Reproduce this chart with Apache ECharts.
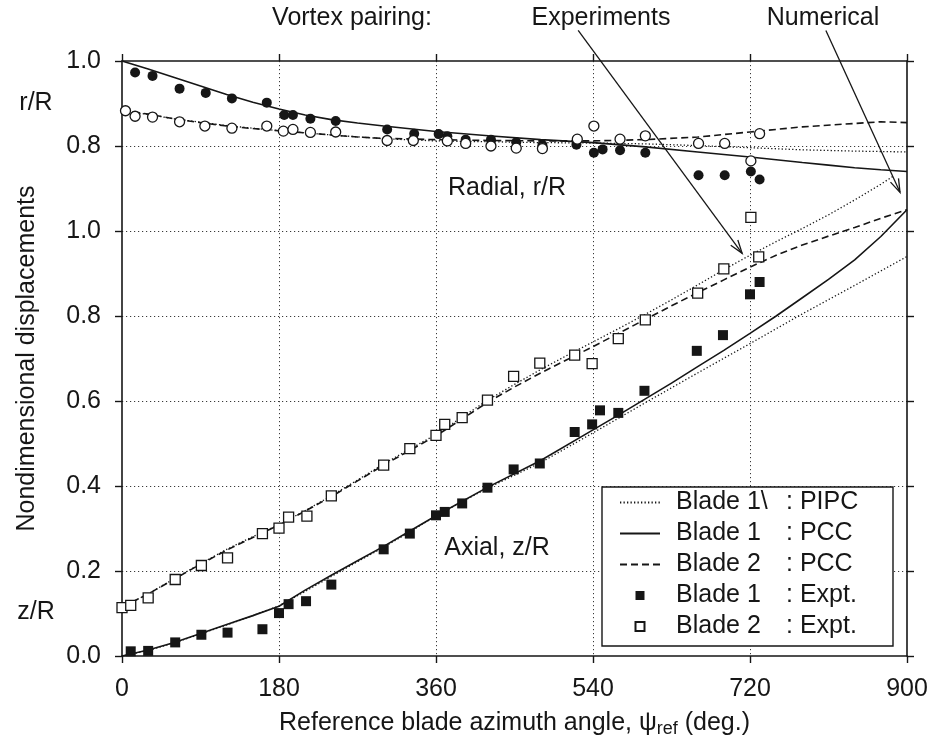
<!DOCTYPE html>
<html>
<head>
<meta charset="utf-8">
<script src="https://cdn.jsdelivr.net/npm/echarts@6/dist/echarts.min.js"></script>
<style>
  html, body { margin: 0; padding: 0; background: #ffffff; }
  #chart { width: 932px; height: 745px; }
</style>
</head>
<body>
<div id="chart"></div>
<script>
// Wake geometry of a two-bladed rotor: axial (z/R) and radial (r/R) tip-vortex displacements
// against reference blade azimuth psi_ref (deg.). Radial values sit on their own r/R scale.

// ---- axes ----
const psiTicks = [0, 180, 360, 540, 720, 900];
const zTickLabels = ['0.0', '0.2', '0.4', '0.6', '0.8', '1.0'];
const rTickLabels = ['0.8', '1.0'];

// ---- legend ----
const legendBlade = ['Blade 1\\', 'Blade 1', 'Blade 2', 'Blade 1', 'Blade 2'];
const legendKind = [': PIPC', ': PCC', ': PCC', ': Expt.', ': Expt.'];

// ---- axial displacement z/R: numerical ----
const axialB1PIPC = [[0,0],[30,0.013],[60,0.031],[90,0.052],[120,0.073],[150,0.095],[180,0.118],[210,0.152],[240,0.187],[270,0.222],[300,0.256],[330,0.292],[360,0.330],[420,0.396],[480,0.455],[540,0.525],[600,0.596],[660,0.666],[720,0.735],[780,0.805],[840,0.872],[900,0.940]];
const axialB2PIPC = [[0,0.115],[30,0.146],[60,0.182],[90,0.217],[120,0.251],[150,0.281],[180,0.309],[210,0.342],[240,0.377],[270,0.414],[300,0.452],[330,0.487],[360,0.521],[390,0.562],[420,0.603],[450,0.639],[480,0.674],[510,0.707],[540,0.739],[570,0.771],[600,0.804],[630,0.838],[660,0.873],[690,0.909],[720,0.943],[750,0.975],[780,1.006],[810,1.038],[840,1.073],[870,1.110],[885,1.130]];
const axialB1PCC = [[0,0],[30,0.014],[60,0.032],[90,0.053],[120,0.074],[150,0.095],[180,0.117],[210,0.155],[240,0.190],[270,0.224],[300,0.258],[330,0.294],[360,0.330],[420,0.398],[480,0.460],[540,0.532],[570,0.568],[600,0.605],[630,0.642],[660,0.681],[690,0.719],[720,0.759],[750,0.800],[780,0.843],[810,0.886],[840,0.932],[870,0.987],[900,1.050]];
const axialB2PCC = [[0,0.115],[30,0.146],[60,0.181],[90,0.216],[120,0.249],[150,0.279],[180,0.308],[210,0.341],[240,0.375],[270,0.412],[300,0.449],[330,0.484],[360,0.518],[390,0.558],[420,0.598],[450,0.633],[480,0.666],[510,0.697],[540,0.728],[570,0.760],[600,0.792],[630,0.824],[660,0.855],[690,0.885],[720,0.915],[750,0.943],[780,0.967],[810,0.988],[840,1.008],[870,1.030],[900,1.050]];

// ---- axial displacement z/R: experiment ----
const axialB1Expt = [[10,0.011],[30,0.012],[61,0.032],[91,0.050],[121,0.055],[161,0.063],[180,0.101],[191,0.122],[211,0.129],[240,0.168],[300,0.251],[330,0.288],[360,0.331],[370,0.339],[390,0.359],[419,0.396],[449,0.439],[479,0.453],[519,0.527],[539,0.545],[548,0.578],[569,0.572],[599,0.624],[659,0.718],[689,0.755],[720,0.851],[731,0.880]];
const axialB2Expt = [[0,0.114],[10,0.119],[30,0.137],[61,0.180],[91,0.213],[121,0.231],[161,0.288],[180,0.301],[191,0.327],[212,0.329],[240,0.377],[300,0.449],[330,0.488],[360,0.519],[370,0.545],[390,0.561],[419,0.602],[449,0.658],[479,0.689],[519,0.708],[539,0.688],[569,0.747],[600,0.791],[660,0.854],[690,0.911],[721,1.032],[730,0.939]];

// ---- radial displacement r/R: numerical ----
const radialPIPC = [[0,0.884],[60,0.864],[120,0.848],[180,0.836],[240,0.826],[300,0.817],[360,0.812],[420,0.810],[480,0.808],[540,0.807],[600,0.805],[660,0.801],[720,0.796],[780,0.791],[840,0.788],[900,0.786]];
const radialB1PCC = [[0,1.000],[30,0.981],[60,0.961],[90,0.941],[120,0.921],[150,0.903],[180,0.887],[210,0.873],[240,0.862],[270,0.854],[300,0.847],[360,0.834],[420,0.824],[480,0.815],[540,0.808],[600,0.798],[660,0.786],[720,0.774],[780,0.761],[810,0.755],[840,0.749],[870,0.744],[900,0.740]];
const radialB2PCC = [[0,0.884],[30,0.875],[60,0.864],[90,0.855],[120,0.847],[150,0.841],[180,0.836],[210,0.831],[240,0.826],[270,0.821],[300,0.818],[360,0.815],[420,0.813],[480,0.812],[540,0.812],[600,0.815],[660,0.821],[720,0.833],[780,0.845],[840,0.853],[870,0.857],[900,0.855]];

// ---- radial displacement r/R: experiment ----
const radialB1Expt = [[15,0.973],[35,0.965],[66,0.935],[96,0.925],[126,0.912],[166,0.902],[186,0.873],[196,0.873],[216,0.864],[245,0.859],[304,0.839],[335,0.829],[363,0.828],[373,0.823],[394,0.815],[423,0.815],[452,0.809],[482,0.802],[521,0.803],[541,0.784],[551,0.792],[571,0.790],[600,0.784],[661,0.731],[691,0.731],[721,0.740],[731,0.721]];
const radialB2Expt = [[4,0.883],[15,0.870],[35,0.868],[66,0.857],[95,0.847],[126,0.842],[166,0.847],[185,0.835],[196,0.839],[216,0.832],[245,0.833],[304,0.813],[334,0.813],[373,0.812],[394,0.806],[423,0.800],[452,0.795],[482,0.794],[522,0.816],[541,0.847],[571,0.816],[600,0.824],[661,0.806],[691,0.806],[721,0.765],[731,0.829]];

const FONT = '"Liberation Sans", Arial, Helvetica, sans-serif';
const INK = '#161616';
const legendNames = legendBlade.map((b, i) => b + '  ' + legendKind[i]);
const SQUARE = 'path://M0,0H10V10H0Z';

const axisLine = { show: true, onZero: false, lineStyle: { color: INK, width: 1.6 } };
const axisTick = { show: true, length: 7, lineStyle: { color: INK, width: 1.4 } };
const gridLine = { show: true, showMinLine: false, showMaxLine: false,
  lineStyle: { color: '#3a3a3a', width: 1, type: [1.2, 2.8] } };
const labelFont = { color: INK, fontFamily: FONT, fontSize: 25 };

const styles = {
  pipc: { color: INK, width: 1.3, type: [1.3, 2.2], cap: 'butt' },
  pcc1: { color: INK, width: 1.6, type: 'solid' },
  pcc2: { color: INK, width: 1.6, type: [7, 4], cap: 'butt' }
};

function curve(name, data, style, yAxisIndex) {
  return { type: 'line', name, data, xAxisIndex: 0, yAxisIndex,
    symbol: 'none', showSymbol: false, smooth: false,
    lineStyle: style, itemStyle: { color: INK }, silent: true, z: 3, animation: false };
}
function points(name, data, symbol, filled, yAxisIndex) {
  return { type: 'scatter', name, data, xAxisIndex: 0, yAxisIndex,
    symbol, symbolSize: 10, clip: false, silent: true, z: 5, animation: false,
    itemStyle: filled ? { color: INK, opacity: 1 } : { color: '#ffffff', borderColor: INK, borderWidth: 1.3, opacity: 1 } };
}

// Legend entries: line samples carry no marker, experiment entries use a small square.
const legendData = legendNames.map((name, i) => i < 3
  ? { name, itemStyle: { opacity: 0 } }
  : { name, icon: SQUARE });

const option = {
  backgroundColor: '#ffffff',
  animation: false,
  grid: { left: 122, right: 25, top: 61, bottom: 89, containLabel: false },
  xAxis: [
    { type: 'value', position: 'bottom', min: psiTicks[0], max: psiTicks[psiTicks.length - 1], interval: psiTicks[1] - psiTicks[0],
      axisLine, axisTick, splitLine: gridLine,
      axisLabel: Object.assign({ margin: 21 }, labelFont),
      name: 'Reference blade azimuth angle, ψ{sub|ref} (deg.)', nameLocation: 'middle', nameGap: 52,
      nameTextStyle: { color: INK, fontFamily: FONT, fontSize: 25, lineHeight: 30,
        rich: { sub: { color: INK, fontFamily: FONT, fontSize: 18, lineHeight: 18, verticalAlign: 'bottom' } } } },
    { type: 'value', position: 'top', min: psiTicks[0], max: psiTicks[psiTicks.length - 1], interval: psiTicks[1] - psiTicks[0],
      axisLine, axisTick, axisLabel: { show: false }, splitLine: { show: false } }
  ],
  yAxis: [
    { type: 'value', position: 'left', min: 0, max: 1.4, interval: 0.2,
      axisLine, axisTick, splitLine: gridLine,
      axisLabel: Object.assign({ margin: 21, formatter: v => zTickLabels.indexOf(v.toFixed(1)) >= 0 && v < 1.05 ? v.toFixed(1) : '' }, labelFont),
      name: 'Nondimensional displacements', nameLocation: 'middle', nameGap: 82,
      nameTextStyle: { color: INK, fontFamily: FONT, fontSize: 25 } },
    { type: 'value', position: 'left', min: -0.4, max: 1.0, interval: 0.2,
      axisLine: { show: false }, axisTick: { show: false }, splitLine: { show: false },
      axisLabel: Object.assign({ margin: 21, formatter: v => (v > 0.75 && rTickLabels.indexOf(v.toFixed(1)) >= 0) ? v.toFixed(1) : '' }, labelFont) },
    { type: 'value', position: 'right', min: 0, max: 1.4, interval: 0.2,
      axisLine, axisTick, axisLabel: { show: false }, splitLine: { show: false } }
  ],
  legend: {
    data: legendData, orient: 'vertical', left: 602, top: 487,
    itemWidth: 40, itemHeight: 9, itemGap: 6, padding: [3, 7, 7, 17],
    symbolKeepAspect: true,
    borderColor: INK, borderWidth: 1.4, borderRadius: 0, backgroundColor: '#ffffff',
    selectedMode: false,
    formatter: name => {
      const i = legendNames.indexOf(name);
      return '{a|' + legendBlade[i] + '}{b|' + legendKind[i] + '}';
    },
    textStyle: { color: INK, fontFamily: FONT, fontSize: 25,
      rich: {
        a: { color: INK, fontFamily: FONT, fontSize: 25, lineHeight: 26, width: 110, padding: [0, 0, 0, 11] },
        b: { color: INK, fontFamily: FONT, fontSize: 25, lineHeight: 26, width: 100 }
      } }
  },
  series: [
    curve(legendNames[0], axialB1PIPC, styles.pipc, 0),
    curve(legendNames[1], axialB1PCC, styles.pcc1, 0),
    curve(legendNames[2], axialB2PCC, styles.pcc2, 0),
    points(legendNames[3], axialB1Expt, 'rect', true, 0),
    points(legendNames[4], axialB2Expt, 'rect', false, 0),
    curve(legendNames[0], axialB2PIPC, styles.pipc, 0),
    curve(legendNames[0], radialPIPC, styles.pipc, 1),
    curve(legendNames[1], radialB1PCC, styles.pcc1, 1),
    curve(legendNames[2], radialB2PCC, styles.pcc2, 1),
    points('Blade 1 radial', radialB1Expt, 'circle', true, 1),
    points('Blade 2 radial', radialB2Expt, 'circle', false, 1)
  ]
};

const chart = echarts.init(document.getElementById('chart'), null, { renderer: 'canvas' });
chart.setOption(option);

// Annotations: captions above the frame and arrows pointing into the wake curves.
function toPx(psi, z) { return chart.convertToPixel({ xAxisIndex: 0, yAxisIndex: 0 }, [psi, z]); }
function arrow(from, to) {
  const a = toPx(from[0], from[1]);
  const b = toPx(to[0], to[1]);
  const ang = Math.atan2(b[1] - a[1], b[0] - a[0]);
  const len = 14, spread = 0.32;
  const p1 = [b[0] - len * Math.cos(ang - spread), b[1] - len * Math.sin(ang - spread)];
  const p2 = [b[0] - len * Math.cos(ang + spread), b[1] - len * Math.sin(ang + spread)];
  return [
    { type: 'line', shape: { x1: a[0], y1: a[1], x2: b[0], y2: b[1] }, style: { stroke: INK, lineWidth: 1.3 }, z: 20, silent: true },
    { type: 'polyline', shape: { points: [p1, b, p2] }, style: { stroke: INK, lineWidth: 1.3, fill: null }, z: 20, silent: true }
  ];
}
function caption(text, x, y) {
  return { type: 'text', x, y, z: 20, silent: true,
    style: { text, fill: INK, fontFamily: FONT, fontSize: 25, align: 'center', verticalAlign: 'middle' } };
}

chart.setOption({
  graphic: [
    caption('Vortex pairing:', 352, 18),
    caption('Experiments', 601, 18),
    caption('Numerical', 823, 18),
    caption('Radial, r/R', 507, 188),
    caption('Axial, z/R', 497, 548),
    caption('r/R', 36, 103),
    caption('z/R', 36, 612)
  ].concat(arrow([523, 1.472], [711, 0.9475]), arrow([807, 1.472], [892, 1.091]))
});
</script>
</body>
</html>
